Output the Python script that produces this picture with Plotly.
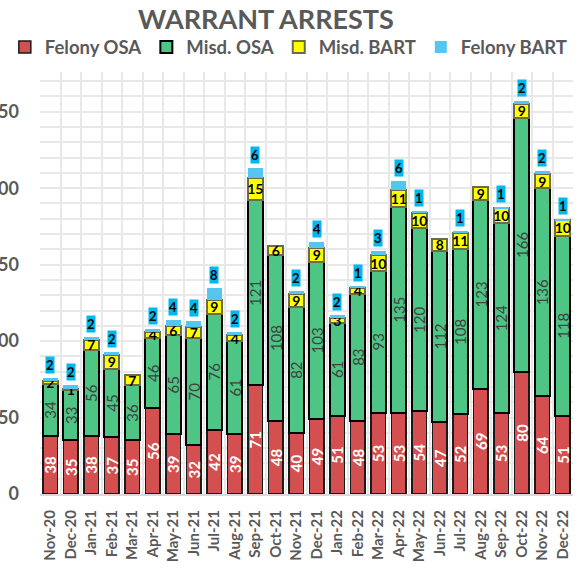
import plotly.graph_objects as go

months = ["Nov-20", "Dec-20", "Jan-21", "Feb-21", "Mar-21", "Apr-21", "May-21", "Jun-21",
          "Jul-21", "Aug-21", "Sep-21", "Oct-21", "Nov-21", "Dec-21", "Jan-22", "Feb-22",
          "Mar-22", "Apr-22", "May-22", "Jun-22", "Jul-22", "Aug-22", "Sep-22", "Oct-22",
          "Nov-22", "Dec-22"]
felony_osa = [38, 35, 38, 37, 35, 56, 39, 32, 42, 39, 71, 48, 40, 49, 51, 48, 53, 53, 54, 47,
              52, 69, 53, 80, 64, 51]
misd_osa = [34, 33, 56, 45, 36, 46, 65, 70, 76, 61, 121, 108, 82, 103, 61, 83, 93, 135, 120,
            112, 108, 123, 124, 166, 136, 118]
misd_bart = [2, 1, 7, 9, 7, 4, 6, 7, 9, 4, 15, 6, 9, 9, 3, 4, 10, 11, 10, 8, 11, 9, 10, 9, 9, 10]
felony_bart = [2, 2, 2, 2, 0, 2, 4, 4, 8, 2, 6, 0, 2, 4, 2, 1, 3, 6, 1, 0, 1, 0, 1, 2, 2, 1]

FONT = "Lato"
GRAY = "#595959"
W, H = 578, 569

fig = go.Figure()
fig.add_bar(x=months, y=felony_osa, name="Felony OSA",
            marker=dict(color="#D45050", line=dict(color="#1a1a1a", width=1.5)),
            text=[str(v) for v in felony_osa], textposition="inside", textangle=-90,
            insidetextanchor="middle",
            textfont=dict(family=FONT, size=15, color="white", weight="bold"))
fig.add_bar(x=months, y=misd_osa, name="Misd. OSA",
            marker=dict(color="#4EC485", line=dict(color="#000000", width=2)),
            text=[str(v) for v in misd_osa], textposition="inside", textangle=-90,
            insidetextanchor="middle",
            textfont=dict(family=FONT, size=15, color="#404040"))
fig.add_bar(x=months, y=misd_bart, name="Misd. BART",
            marker=dict(color="#FFFF00", line=dict(color="#6b6b45", width=2)),
            text=[str(v) for v in misd_bart], textposition="inside", textangle=0,
            insidetextanchor="middle",
            textfont=dict(family=FONT, size=14, color="black", weight="bold"))
fig.add_bar(x=months, y=felony_bart, name="Felony BART",
            marker=dict(color="#55C5F2", line=dict(width=0)))

fig.update_traces(constraintext="none", cliponaxis=False)

# labels for the top segment, in a cyan box above each stack
totals = [a + b + c + d for a, b, c, d in zip(felony_osa, misd_osa, misd_bart, felony_bart)]
for m, t, v in zip(months, totals, felony_bart):
    if v == 0:
        continue
    fig.add_annotation(x=m, y=t, text="<b>%d</b>" % v, showarrow=False,
                       yanchor="bottom", yshift=4, bgcolor="#00B8F0", borderpad=0,
                       font=dict(family=FONT, size=13, color="black"))

fig.update_layout(
    barmode="stack", bargap=0.28,
    width=W, height=H,
    paper_bgcolor="white", plot_bgcolor="white",
    margin=dict(l=33, r=5, t=72, b=75),
    title=dict(text="<b>WARRANT ARRESTS</b>", x=0.46, xanchor="center", y=1 - 20 / H,
               yanchor="middle", font=dict(family=FONT, size=27, color=GRAY)),
    # anchored left of the plot area, above it, so the row may use the full width
    legend=dict(orientation="h", x=-0.066, y=1.058, xanchor="left", yanchor="middle",
                font=dict(family=FONT, size=18.5, color=GRAY, weight="bold"),
                traceorder="normal", itemwidth=30),
    showlegend=True,
)
fig.update_xaxes(type="category", tickson="boundaries", showgrid=True, gridcolor="#E8E8E8",
                 gridwidth=2, tickangle=-90, ticks="", ticklabelstandoff=8, automargin=False,
                 tickfont=dict(family=FONT, size=15, color=GRAY, weight="bold"),
                 showline=True, linecolor="#D9D9D9", linewidth=2)
fig.update_yaxes(range=[0, 276], dtick=50, showgrid=True, gridcolor="#E8E8E8", gridwidth=2,
                 minor=dict(dtick=10, showgrid=True, gridcolor="#E8E8E8", gridwidth=2),
                 zeroline=False, ticks="", ticklabelstandoff=20, automargin=False,
                 tickfont=dict(family=FONT, size=18, color=GRAY, weight="bold"))

# drop the browser's default 8px body margin so the figure fills the window
fig.write_html("out.html", config={"displayModeBar": False},
               post_script="document.body.style.margin = '0px';")
